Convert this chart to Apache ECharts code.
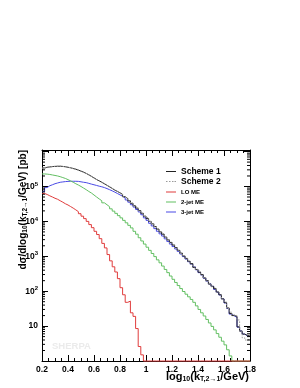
<!DOCTYPE html>
<html>
<head>
<meta charset="utf-8">
<script src="https://cdn.jsdelivr.net/npm/echarts@6/dist/echarts.min.js"></script>
<style>
html,body{margin:0;padding:0;background:#fff;}
#chart{width:300px;height:388px;}
</style>
</head>
<body>
<div id="chart"></div>
<script>
// Histogram binning (80 bins of width 0.02 from 0.2 to 1.8)
const binStart = 0.2;
const binWidth = 0.02;
const xTickLabels = ['0.2','0.4','0.6','0.8','1','1.2','1.4','1.6','1.8'];
const yTickLabels = ['10','10{sup|2}','10{sup|3}','10{sup|4}','10{sup|5}'];
const seriesNames = ['Scheme 1','Scheme 2','LO ME','2-jet ME','3-jet ME'];

const scheme1 = [
 3.39e5,3.55e5,3.63e5,3.72e5,3.76e5,3.80e5,3.80e5,3.76e5,3.67e5,3.55e5,
 3.43e5,3.27e5,3.13e5,2.95e5,2.75e5,2.57e5,2.37e5,2.16e5,1.95e5,1.76e5,
 1.58e5,1.45e5,1.32e5,1.20e5,1.08e5,9.8e4,8.8e4,7.9e4,7.2e4,6.6e4,
 5.9e4,5.1e4,4.5e4,3.9e4,3.3e4,2.8e4,2.4e4,2.04e4,1.70e4,1.41e4,
 1.20e4,1.00e4,8.5e3,7.1e3,6.0e3,5.0e3,4.3e3,3.55e3,2.95e3,2.5e3,
 2.1e3,1.78e3,1.48e3,1.23e3,1.02e3,870,720,620,480,420,
 350,300,240,200,160,138,118,95,79,60,
 47,33,23,20,19,9.5,7.2,5.9,5.4,5.2];

const scheme2 = [
 3.36e5,3.57e5,3.65e5,3.70e5,3.78e5,3.79e5,3.82e5,3.74e5,3.68e5,3.54e5,
 3.44e5,3.26e5,3.14e5,2.94e5,2.76e5,2.56e5,2.38e5,2.15e5,1.96e5,1.75e5,
 1.59e5,1.44e5,1.33e5,1.19e5,1.09e5,9.7e4,8.9e4,7.8e4,7.3e4,6.5e4,
 5.95e4,5.05e4,4.55e4,3.85e4,3.35e4,2.77e4,2.43e4,2.01e4,1.72e4,1.39e4,
 1.22e4,9.9e3,8.6e3,7.0e3,6.1e3,4.9e3,4.35e3,3.5e3,3.0e3,2.45e3,
 2.15e3,1.75e3,1.5e3,1.2e3,1.04e3,850,740,590,500,410,
 360,285,245,195,168,134,120,92,81,58,
 49,32,25,21,20,15,7.0,4.6,4.0,4.2];

const loME = [
 6.3e4,5.9e4,5.4e4,5.0e4,4.6e4,4.3e4,3.9e4,3.55e4,3.2e4,2.95e4,
 2.66e4,2.4e4,2.14e4,1.9e4,1.66e4,1.41e4,1.2e4,1.0e4,8.1e3,6.6e3,
 5.2e3,4.2e3,3.2e3,2.34e3,1.74e3,1.12e3,740,500,355,229,
 126,79,48,52,24,19,8.5,2.6,1.5,1,
 1,1,1,1,1,1,1,1,1,1,
 1,1,1,1,1,1,1,1,1,1,
 1,1,1,1,1,1,1,1,1,1,
 1,1,1,1,1,1,1,1,1,1];

const twoJetME = [
 2.29e5,2.26e5,2.21e5,2.14e5,2.07e5,2.0e5,1.91e5,1.80e5,1.70e5,1.57e5,
 1.45e5,1.32e5,1.20e5,1.10e5,1.0e5,9.0e4,8.1e4,7.2e4,6.5e4,5.7e4,
 5.0e4,4.4e4,3.9e4,3.4e4,3.0e4,2.63e4,2.29e4,1.97e4,1.70e4,1.46e4,
 1.26e4,1.07e4,9.1e3,7.7e3,6.5e3,5.2e3,4.3e3,3.4e3,2.75e3,2.24e3,
 1.82e3,1.48e3,1.20e3,980,790,650,525,420,340,272,
 219,178,145,119,98,82,69,58,48,38,
 30,24,19.5,15.5,12.3,9.8,7.8,6.1,4.8,3.7,
 2.9,2.1,1.4,1,1,1,1,1,1,1];

const threeJetME = [
 7.1e4,9.3e4,1.05e5,1.12e5,1.20e5,1.26e5,1.32e5,1.35e5,1.38e5,1.40e5,
 1.41e5,1.41e5,1.41e5,1.40e5,1.36e5,1.32e5,1.29e5,1.23e5,1.17e5,1.12e5,
 1.07e5,1.02e5,9.8e4,9.3e4,8.7e4,8.1e4,7.5e4,6.9e4,6.3e4,5.75e4,
 5.25e4,4.7e4,4.1e4,3.55e4,3.0e4,2.57e4,2.19e4,1.86e4,1.55e4,1.26e4,
 1.07e4,8.8e3,7.4e3,6.2e3,5.2e3,4.4e3,3.8e3,3.16e3,2.66e3,2.24e3,
 1.9e3,1.62e3,1.38e3,1.16e3,980,830,700,590,500,410,
 340,290,235,195,162,138,112,93,78,60,
 46,32,22,19.5,17.8,9.3,7.2,5.9,5.2,5.0];

const X_MIN = 0.2, X_MAX = 1.8, Y_MIN = 1, Y_MAX = 1.11e6;
const FONT = 'Liberation Sans';

function toSteps(vals){
  const pts = vals.map((v,i)=>[+(binStart + i*binWidth).toFixed(4), v]);
  pts.push([+(binStart + vals.length*binWidth).toFixed(4), vals[vals.length-1]]);
  return pts;
}

// log minor tick positions (2..9 x 10^n)
const minorY = [];
for (let e = 0; e <= 5; e++) for (let k = 2; k <= 9; k++) { const v = k*Math.pow(10,e); if (v < Y_MAX) minorY.push([X_MIN, v]); }

const ICON_SOLID = 'path://M0,0h0.01v0.01h-0.01zM0,4.5h10v1h-10zM9.99,9.99h0.01v0.01h-0.01z';
const ICON_DOT = 'path://M0,0h0.01v0.01h-0.01zM0,4.5h1.5v1h-1.5zM3,4.5h1.5v1h-1.5zM6,4.5h1.5v1h-1.5zM8.5,4.5h1.5v1h-1.5zM9.99,9.99h0.01v0.01h-0.01z';

const chart = echarts.init(document.getElementById('chart'), null, {renderer:'canvas'});

function lineSeries(name, data, color, z, dash){
  return {
    name, type:'line', step:'end', data: toSteps(data), symbol:'none', clip:false,
    z, animation:false,
    lineStyle:{width:1, color, type: dash || 'solid'},
    itemStyle:{color}
  };
}

const axisCommonY = {
  type:'log', logBase:10, min:Y_MIN, max:Y_MAX, splitNumber:6,
  axisLine:{show:true, lineStyle:{color:'#000', width:1}},
  axisTick:{show:true, inside:true, length:6, lineStyle:{color:'#000'}},
  splitLine:{show:false}
};
const axisCommonX = {
  type:'value', min:X_MIN, max:X_MAX, interval:0.2,
  axisLine:{show:true, onZero:false, lineStyle:{color:'#000', width:1}},
  axisTick:{show:true, inside:true, length:6, lineStyle:{color:'#000'}},
  minorTick:{show:true, splitNumber:4, length:3, lineStyle:{color:'#000'}},
  splitLine:{show:false}
};

const option = {
  animation:false,
  backgroundColor:'#fff',
  grid:{left:42, right:50, top:150, bottom:27},
  xAxis:[
    Object.assign({}, axisCommonX, {position:'bottom',
      axisLabel:{margin:4, color:'#000', fontFamily:FONT, fontWeight:'bold', fontSize:8.5,
        formatter:(v)=>{ const i = Math.round((v - X_MIN)/0.2); return xTickLabels[i] || ''; }}}),
    Object.assign({}, axisCommonX, {position:'top', axisLabel:{show:false}})
  ],
  yAxis:[
    Object.assign({}, axisCommonY, {position:'left',
      axisLabel:{margin:4, color:'#000', fontFamily:FONT, fontWeight:'bold', fontSize:8.5, lineHeight:11,
        formatter:(v)=>{ const l = Math.log10(v); const e = Math.round(l);
          if (Math.abs(l-e) > 1e-6) return ''; return yTickLabels[e-1] || ''; },
        rich:{sup:{fontSize:6, fontWeight:'bold', fontFamily:FONT, color:'#000', lineHeight:6, padding:[0,0,5,0]}}}}),
    Object.assign({}, axisCommonY, {position:'right', axisLabel:{show:false}})
  ],
  legend:[
    {data:[{name:'Scheme 1', icon:ICON_SOLID},{name:'Scheme 2', icon:ICON_DOT}],
     orient:'vertical', left:166, top:166.5, padding:0,
     itemWidth:10, itemHeight:10, itemGap:0, selectedMode:false,
     textStyle:{fontSize:8.5, fontWeight:'bold', fontFamily:FONT, color:'#000'}},
    {data:[{name:'LO ME', icon:ICON_SOLID},{name:'2-jet ME', icon:ICON_SOLID},{name:'3-jet ME', icon:ICON_SOLID}],
     orient:'vertical', left:166, top:187, padding:0,
     itemWidth:10, itemHeight:10, itemGap:0, selectedMode:false,
     textStyle:{fontSize:6, fontWeight:'bold', fontFamily:FONT, color:'#000'}}
  ],
  graphic:[
    {type:'text', x:52, y:346.5, silent:true, z:1,
     style:{text:'SHERPA', fontSize:9.5, fontWeight:'bold', fontFamily:FONT, fill:'#ebebeb', verticalAlign:'middle'}},
    {type:'text', x:249, y:377, silent:true,
     style:{text:'log{s|10}(k{s|T,2\u21921}/GeV)', fontSize:11, fontWeight:'bold', fontFamily:FONT, fill:'#000',
       align:'right', verticalAlign:'middle', lineHeight:12,
       rich:{s:{fontSize:7, fontWeight:'bold', fontFamily:FONT, fill:'#000', lineHeight:7, padding:[5,0,0,0]}}}},
    {type:'text', x:23, y:150, rotation:Math.PI/2, silent:true,
     style:{text:'d\u03c3/dlog{s|10}(k{s|T,2\u21921}/GeV) [pb]', fontSize:10, fontWeight:'bold', fontFamily:FONT, fill:'#000',
       align:'right', verticalAlign:'middle', lineHeight:11,
       rich:{s:{fontSize:6.5, fontWeight:'bold', fontFamily:FONT, fill:'#000', lineHeight:6, padding:[5,0,0,0]}}}}
  ],
  series:[
    lineSeries('3-jet ME', threeJetME, '#4b4be6', 3),
    lineSeries('2-jet ME', twoJetME, '#62bf62', 3),
    lineSeries('Scheme 1', scheme1, '#222222', 4),
    lineSeries('Scheme 2', scheme2, '#9a9a9a', 5, [1.5,1.5]),
    lineSeries('LO ME', loME, '#e03c3c', 6),
    {type:'custom', xAxisIndex:0, yAxisIndex:0, data:minorY, silent:true, clip:false, z:7, animation:false,
     renderItem:(params, api)=>{
       const v = api.value(1);
       const l = api.coord([X_MIN, v]);
       const r = api.coord([X_MAX, v]);
       return {type:'group', children:[
         {type:'line', shape:{x1:l[0], y1:l[1], x2:l[0]+3, y2:l[1]}, style:{stroke:'#000', lineWidth:1}},
         {type:'line', shape:{x1:r[0]-3, y1:r[1], x2:r[0], y2:r[1]}, style:{stroke:'#000', lineWidth:1}}
       ]};
     }}
  ]
};
chart.setOption(option);
</script>
</body>
</html>
